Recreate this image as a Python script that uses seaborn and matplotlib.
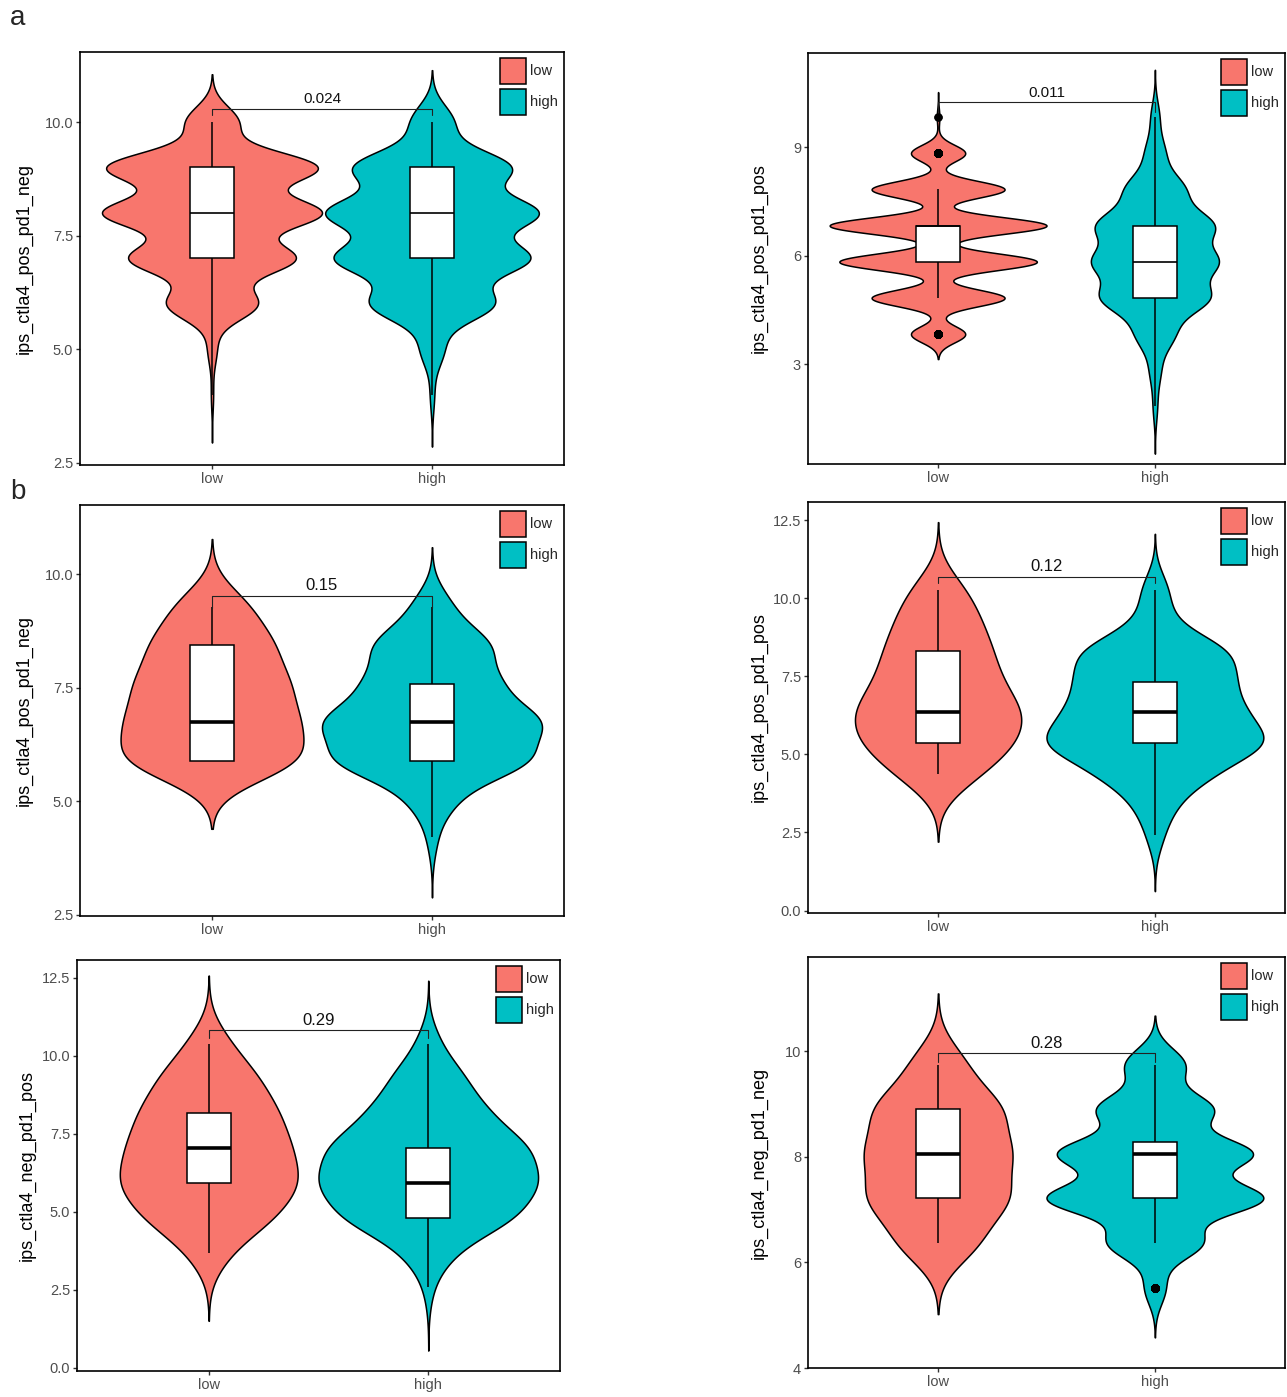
import numpy as np
import pandas as pd
import seaborn as sns
import matplotlib.pyplot as plt
from matplotlib.patches import Patch

groups = ["low", "high"]
palette = {"low": "#F8766D", "high": "#00BFC4"}

# IPS scores: score levels and number of samples at each level
a1_low_levels = [4, 5, 6, 7, 8, 9, 10]
a1_low_counts = [1, 4, 40, 73, 96, 93, 23]
a1_high_levels = [4, 5, 6, 7, 8, 9, 10]
a1_high_counts = [2, 11, 58, 91, 99, 74, 20]

a2_low_levels = [3.83, 4.83, 5.83, 6.83, 7.83, 8.83, 9.83]
a2_low_counts = [42, 103, 153, 168, 103, 42, 2]
a2_high_levels = [1.83, 2.83, 3.83, 4.83, 5.83, 6.83, 7.83, 8.83, 9.83]
a2_high_counts = [6, 15, 52, 147, 166, 158, 80, 27, 12]

b1_low_levels = [5.89, 6.74, 7.58, 8.43, 9.27]
b1_low_counts = [170, 150, 135, 110, 70]
b1_high_levels = [4.20, 5.05, 5.89, 6.74, 7.58, 8.43, 9.27]
b1_high_counts = [9, 40, 176, 194, 114, 106, 35]

b2_low_levels = [4.38, 5.36, 6.34, 7.32, 8.30, 9.28, 10.26]
b2_low_counts = [88, 152, 170, 117, 106, 82, 59]
b2_high_levels = [2.42, 3.40, 4.38, 5.36, 6.34, 7.32, 8.30, 9.28, 10.26]
b2_high_counts = [18, 40, 110, 230, 170, 150, 155, 30, 30]

b3_low_levels = [3.69, 4.81, 5.92, 7.04, 8.15, 9.27, 10.38]
b3_low_counts = [38, 124, 171, 151, 130, 95, 41]
b3_high_levels = [2.57, 3.69, 4.81, 5.92, 7.04, 8.15, 9.27, 10.38]
b3_high_counts = [8, 45, 165, 205, 190, 110, 70, 22]

b4_low_levels = [6.37, 7.21, 8.06, 8.90, 9.74]
b4_low_counts = [138, 240, 240, 218, 94]
b4_high_levels = [5.51, 6.37, 7.21, 8.06, 8.90, 9.74]
b4_high_counts = [30, 135, 310, 278, 165, 86]

ylabels = ["ips_ctla4_pos_pd1_neg", "ips_ctla4_pos_pd1_pos",
           "ips_ctla4_pos_pd1_neg", "ips_ctla4_pos_pd1_pos",
           "ips_ctla4_neg_pd1_pos", "ips_ctla4_neg_pd1_neg"]
p_values = ["0.024", "0.011", "0.15", "0.12", "0.29", "0.28"]
bracket_y = [10.29, 10.24, 9.52, 10.69, 10.81, 9.96]
bracket_drop = [10.15, 9.98, 9.25, 10.48, 10.56, 9.80]
p_text_y = [10.50, 10.49, 9.74, 11.00, 11.13, 10.14]

sns.set_style("white")
plt.rcParams["font.family"] = ["Liberation Sans", "DejaVu Sans"]

W, H = 1287, 1397
fig = plt.figure(figsize=(W / 100, H / 100), dpi=100)


def peak_count_density(levels, counts, h):
    # max of n * kde, used to scale violins by group size (like ggplot scale="count")
    lv = np.asarray(levels, float)
    ct = np.asarray(counts, float)
    grid = np.linspace(lv.min() - 3 * h, lv.max() + 3 * h, 3000)
    dens = (ct[None, :] * np.exp(-0.5 * ((grid[:, None] - lv[None, :]) / h) ** 2)).sum(1)
    return dens.max() / (h * np.sqrt(2 * np.pi))


panels = [
    dict(box=(80, 52, 564, 465), data=(a1_low_levels, a1_low_counts, a1_high_levels, a1_high_counts),
         bw=(0.35, 0.38), ylim=(2.456, 11.54), ticks=[2.5, 5, 7.5, 10], fmt="{:.1f}", lab=33, mlw=1.2, ps=11),
    dict(box=(808, 53, 1285, 464), data=(a2_low_levels, a2_low_counts, a2_high_levels, a2_high_counts),
         bw=(0.23, 0.435), ylim=(0.24, 11.6), ticks=[3, 6, 9], fmt="{:.0f}", lab=768, mlw=1.2, ps=11),
    dict(box=(80, 505, 564, 916), data=(b1_low_levels, b1_low_counts, b1_high_levels, b1_high_counts),
         bw=(0.5, 0.44), ylim=(2.47, 11.52), ticks=[2.5, 5, 7.5, 10], fmt="{:.1f}", lab=33, mlw=2.6, ps=12),
    dict(box=(808, 502, 1285, 913), data=(b2_low_levels, b2_low_counts, b2_high_levels, b2_high_counts),
         bw=(0.725, 0.6), ylim=(-0.08, 13.08), ticks=[0, 2.5, 5, 7.5, 10, 12.5], fmt="{:.1f}", lab=768, mlw=2.6, ps=12),
    dict(box=(77, 960, 560, 1371), data=(b3_low_levels, b3_low_counts, b3_high_levels, b3_high_counts),
         bw=(0.73, 0.675), ylim=(-0.11, 13.07), ticks=[0, 2.5, 5, 7.5, 10, 12.5], fmt="{:.1f}", lab=36, mlw=2.6, ps=12),
    dict(box=(808, 957, 1285, 1368), data=(b4_low_levels, b4_low_counts, b4_high_levels, b4_high_counts),
         bw=(0.45, 0.31), ylim=(4.0, 11.78), ticks=[4, 6, 8, 10], fmt="{:.0f}", lab=768, mlw=2.6, ps=12),
]

for i, p in enumerate(panels):
    l, t, r, b = p["box"]
    ax = fig.add_axes([l / W, 1 - b / H, (r - l) / W, (b - t) / H])
    lo_lv, lo_ct, hi_lv, hi_ct = p["data"]
    by_group = {"low": (lo_lv, lo_ct, p["bw"][0]), "high": (hi_lv, hi_ct, p["bw"][1])}

    peaks = {g: peak_count_density(*by_group[g]) for g in groups}
    top = max(peaks.values())

    frames = []
    for g in groups:
        lv, ct, h = by_group[g]
        sub = pd.DataFrame({"group": g, "value": np.repeat(lv, ct)})
        frames.append(sub)
        sns.violinplot(data=sub, x="group", y="value", hue="group", order=groups, hue_order=groups,
                       palette=palette, saturation=1, inner=None, cut=3, gridsize=600,
                       width=peaks[g] / top, dodge=False, density_norm="width",
                       bw_method=h / sub["value"].std(ddof=1),
                       linewidth=1.1, linecolor="black", legend=False, ax=ax)
    df = pd.concat(frames, ignore_index=True)

    sns.boxplot(data=df, x="group", y="value", order=groups, color="white", saturation=1,
                width=0.2, whis=1.55, linewidth=1.1, linecolor="black", fliersize=5,
                flierprops={"marker": "o", "markerfacecolor": "black", "markeredgecolor": "black"},
                medianprops={"linewidth": p["mlw"], "color": "black"},
                capprops={"visible": False}, ax=ax)

    # significance bracket
    ax.plot([0, 0, 1, 1], [bracket_drop[i], bracket_y[i], bracket_y[i], bracket_drop[i]],
            color="#222222", lw=0.8)
    ax.text(0.5, p_text_y[i], p_values[i], ha="center", va="center", fontsize=p["ps"], color="#111111")

    ax.set_xlim(-0.6, 1.6)
    ax.set_ylim(*p["ylim"])
    ax.set_yticks(p["ticks"])
    ax.set_yticklabels([p["fmt"].format(v) for v in p["ticks"]])
    ax.set_xlabel("")
    ax.set_ylabel(ylabels[i], fontsize=13, color="black")
    ax.yaxis.set_label_coords((p["lab"] - l) / (r - l), 0.5)
    ax.tick_params(axis="both", length=3, width=1, color="#333333", labelcolor="#4D4D4D",
                   labelsize=10.5, pad=2, left=True, bottom=True)
    for s in ax.spines.values():
        s.set_visible(True)
        s.set_color("black")
        s.set_linewidth(1.2)

    handles = [Patch(facecolor=palette[g], edgecolor="black", linewidth=1.1, label=g) for g in groups]
    ax.legend(handles=handles, loc="upper right", frameon=False, fontsize=10.5,
              handlelength=1.75, handleheight=2.4, handletextpad=0.3, labelspacing=0.3,
              borderpad=0, borderaxespad=0.4)

fig.text(18 / W, 1 - 18 / H, "a", fontsize=20, ha="center", va="center")
fig.text(18 / W, 1 - 492 / H, "b", fontsize=20, ha="center", va="center")

fig.savefig("out.png", dpi=100)
